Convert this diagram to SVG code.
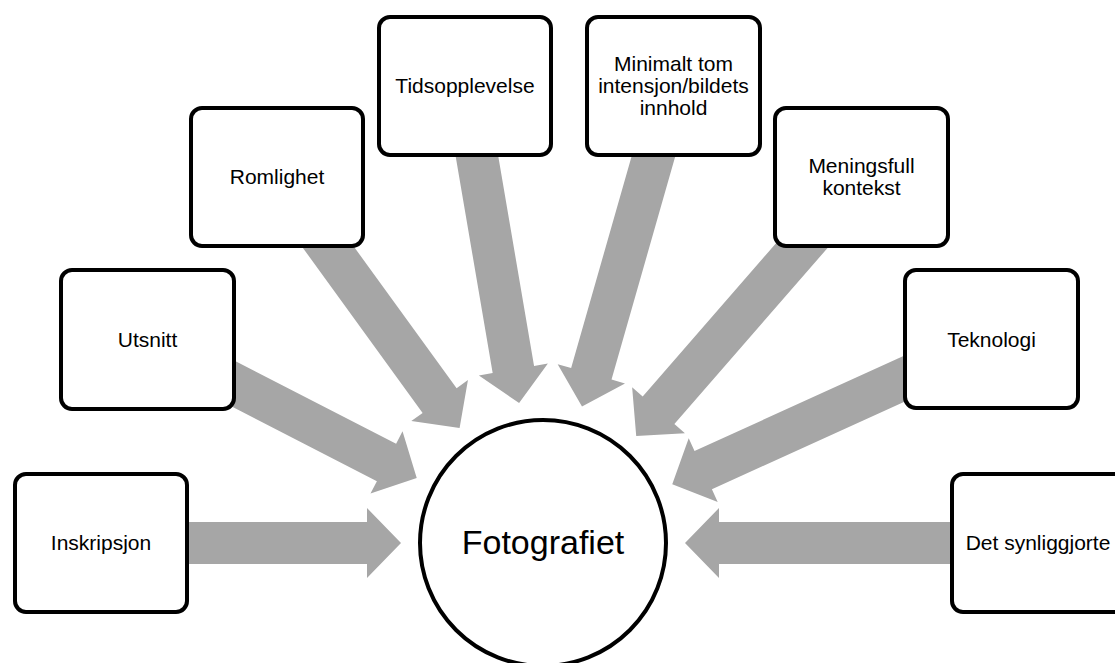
<svg xmlns="http://www.w3.org/2000/svg" width="1115" height="663" viewBox="0 0 1115 663">
<style>
.arrow{fill:#a6a6a6;stroke:none}
.box{fill:#ffffff;stroke:#000000;stroke-width:4}
.lbl{font-family:"Liberation Sans",Arial,sans-serif;font-size:21px;fill:#000000;text-anchor:middle}
.big{font-family:"Liberation Sans",Arial,sans-serif;font-size:34px;fill:#000000;text-anchor:middle}
</style>
<rect width="1115" height="663" fill="#ffffff"/>
<g id="connectors">
<polygon class="arrow" transform="translate(543,543) rotate(180)" points="142,0 176,-35 176,-21 442,-21 442,21 176,21 176,35"/>
<polygon class="arrow" transform="translate(543,543) rotate(-152.77)" points="142,0 176,-35 176,-21 445,-21 445,21 176,21 176,35"/>
<polygon class="arrow" transform="translate(543,543) rotate(-125.97)" points="142,0 176,-35 176,-21 453,-21 453,21 176,21 176,35"/>
<polygon class="arrow" transform="translate(543,543) rotate(-99.69)" points="142,0 176,-35 176,-21 463,-21 463,21 176,21 176,35"/>
<polygon class="arrow" transform="translate(543,543) rotate(-74.06)" points="142,0 176,-35 176,-21 475,-21 475,21 176,21 176,35"/>
<polygon class="arrow" transform="translate(543,543) rotate(-48.97)" points="142,0 176,-35 176,-21 485,-21 485,21 176,21 176,35"/>
<polygon class="arrow" transform="translate(543,543) rotate(-24.46)" points="142,0 176,-35 176,-21 492,-21 492,21 176,21 176,35"/>
<polygon class="arrow" transform="translate(543,543)" points="142,0 176,-35 176,-21 495,-21 495,21 176,21 176,35"/>
</g>
<g id="node-fotografiet">
<circle cx="543" cy="543" r="123" fill="#ffffff" stroke="#000000" stroke-width="4"/>
<text class="big" x="543" y="554">Fotografiet</text>
</g>
<g id="node-inskripsjon">
<rect class="box" x="15" y="474" width="172" height="138" rx="11"/>
<text class="lbl" x="101" y="550">Inskripsjon</text>
</g>
<g id="node-utsnitt">
<rect class="box" x="61" y="270" width="173" height="139" rx="11"/>
<text class="lbl" x="147.5" y="347">Utsnitt</text>
</g>
<g id="node-romlighet">
<rect class="box" x="191" y="108" width="172" height="138" rx="11"/>
<text class="lbl" x="277" y="184">Romlighet</text>
</g>
<g id="node-tidsopplevelse">
<rect class="box" x="379" y="17" width="172" height="138" rx="11"/>
<text class="lbl" x="465" y="93">Tidsopplevelse</text>
</g>
<g id="node-minimalt">
<rect class="box" x="587" y="17" width="173" height="138" rx="11"/>
<text class="lbl" x="673.5" y="71">Minimalt tom</text>
<text class="lbl" x="673.5" y="93">intensjon/bildets</text>
<text class="lbl" x="673.5" y="115">innhold</text>
</g>
<g id="node-meningsfull">
<rect class="box" x="775" y="108" width="173" height="138" rx="11"/>
<text class="lbl" x="861.5" y="173">Meningsfull</text>
<text class="lbl" x="861.5" y="195">kontekst</text>
</g>
<g id="node-teknologi">
<rect class="box" x="905" y="270" width="173" height="138" rx="11"/>
<text class="lbl" x="991.5" y="347">Teknologi</text>
</g>
<g id="node-det-synliggjorte">
<rect class="box" x="952" y="474" width="173" height="138" rx="11"/>
<text class="lbl" x="1038" y="550">Det synliggjorte</text>
</g>
</svg>
